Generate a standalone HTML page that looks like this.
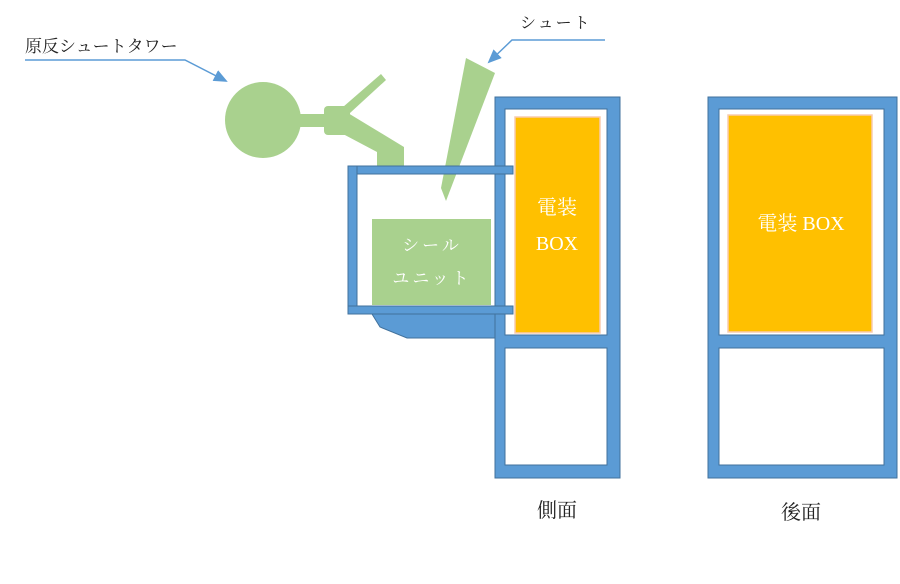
<!DOCTYPE html>
<html><head><meta charset="utf-8"><style>
html,body{margin:0;padding:0;background:#fff;width:900px;height:584px;overflow:hidden}
text{font-family:"Liberation Serif","Noto Serif CJK SC",serif}
</style></head><body>
<svg width="900" height="584" viewBox="0 0 900 584" xmlns="http://www.w3.org/2000/svg">
<defs><marker id="a" markerWidth="14" markerHeight="12" refX="12" refY="6" orient="auto" markerUnits="userSpaceOnUse"><path d="M0,0 L14,6 L0,12 Z" fill="#5b9bd5"/></marker></defs>
<!-- labels -->
<text x="25" y="52" font-size="17" fill="#222">原反シュートタワー</text>
<polyline points="25,60 185,60 226,81" fill="none" stroke="#5b9bd5" stroke-width="1.5" marker-end="url(#a)"/>
<text x="520" y="28" font-size="16" fill="#222" letter-spacing="2">シュート</text>
<polyline points="605,40 512,40 489,62" fill="none" stroke="#5b9bd5" stroke-width="1.5" marker-end="url(#a)"/>
<!-- tower -->
<g fill="#a9d18e">
<circle cx="263" cy="120" r="38"/>
<rect x="298" y="114" width="30" height="13"/>
<rect x="324" y="106" width="26" height="29" rx="4"/>
<polygon points="343,107 381,74 386,80 350,113"/>
<polygon points="343,110 404,147 404,167 377,167 377,152 343,134"/>
<polygon points="466,58 495,73 446,201 441,188"/>
<rect x="372" y="219" width="119" height="86"/>
</g>
<!-- cabinets -->
<g fill="#5b9bd5" stroke="#41719c" stroke-width="1">
<polygon points="372,314 380,327 407,338 497,338 497,314"/>
<path d="M495,97 H620 V478 H495 Z M505,109 V335 H607 V109 Z M505,348 V465 H607 V348 Z" fill-rule="evenodd"/>
<path d="M708,97 H897 V478 H708 Z M719,109 V335 H884 V109 Z M719,348 V465 H884 V348 Z" fill-rule="evenodd"/>
<rect x="348" y="166" width="165" height="8"/>
<rect x="348" y="166" width="9" height="147"/>
<rect x="348" y="306" width="165" height="8"/>
</g>
<rect x="515" y="117" width="85" height="216" fill="#ffc000" stroke="#f8cbad" stroke-width="1.5"/>
<rect x="728" y="115" width="144" height="217" fill="#ffc000" stroke="#f8cbad" stroke-width="1.5"/>
<g fill="#fff" text-anchor="middle">
<text x="432" y="251" font-size="17" letter-spacing="3">シール</text>
<text x="432" y="284" font-size="17" letter-spacing="3">ユニット</text>
<text x="557" y="214" font-size="20">電装</text>
<text x="557" y="250" font-size="20">BOX</text>
<text x="801" y="230" font-size="20">電装 BOX</text>
</g>
<text x="557" y="517" font-size="20" text-anchor="middle" fill="#222">側面</text>
<text x="801" y="519" font-size="20" text-anchor="middle" fill="#222">後面</text>
</svg>
</body></html>
